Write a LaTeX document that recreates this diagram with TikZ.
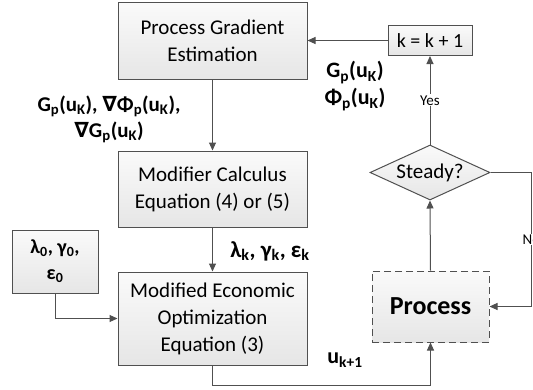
\documentclass[tikz,border=0pt]{standalone}
\usepackage{fontspec}
\setmainfont{Carlito}
\newfontfamily\symfont{DejaVu Sans}
\usepackage{tikz}
\usetikzlibrary{arrows.meta,positioning,calc,shapes.geometric}
\definecolor{LineGray}{HTML}{505050}
\definecolor{BoxTop}{HTML}{FAFAFA}
\definecolor{BoxBot}{HTML}{E6E6E6}
\newcommand{\lo}[1]{\textsubscript{#1}}
\newcommand{\nab}{{\symfont\bfseries ∇}}

\begin{document}
\begin{tikzpicture}[
  x=1pt,y=-1pt,
  every node/.style={font=\fontsize{21}{27}\selectfont,align=center,text=black},
  box/.style={draw=LineGray,line width=1pt,top color=BoxTop,bottom color=BoxBot,minimum width=189pt,inner sep=2pt},
  dbox/.style={box,dashed,dash pattern=on 7pt off 4pt},
  dec/.style={draw=LineGray,line width=1pt,top color=BoxTop,bottom color=BoxBot,diamond,aspect=2.2,minimum width=120pt,minimum height=55pt,inner sep=0pt},
  lbl/.style={font=\fontsize{21}{26}\selectfont\bfseries},
  tag/.style={font=\fontsize{15}{17}\selectfont,fill=white,inner sep=1pt},
  arr/.style={-{Triangle[length=8pt,width=7pt]},line width=1pt,color=LineGray}
]
\useasboundingbox (0,0) rectangle (533,389);
\node[box,minimum height=77pt] (pge) at (212.5,40.5) {Process Gradient\\Estimation};
\node[box,minimum height=76pt,below=71pt of pge] (mod) {Modifier Calculus\\Equation (4) or (5)};
\node[box,minimum height=93pt,below=44pt of mod] (meo) {Modified Economic\\Optimization\\Equation (3)};
\node[box,minimum width=86pt,minimum height=63pt,lbl,font=\fontsize{20}{26}\selectfont\bfseries] (init) at (55,261.5) {λ\lo{0}, γ\lo{0},\\ε\lo{0}};
\node[dbox,minimum width=117pt,minimum height=71pt,font=\fontsize{26}{30}\selectfont\bfseries] (proc) at (430.5,306.5) {Process};
\node[dec] (std) at (430,172.5) {Steady?};
\node[box,minimum width=84pt,minimum height=30pt,font=\fontsize{20}{24}\selectfont] (kup) at (430,40.5) {k = k + 1};

% labels
\node[lbl] (gl) at (109,119) {G\lo{p}(u\lo{K}), \nab Φ\lo{p}(u\lo{K}),\\\nab G\lo{p}(u\lo{K})};
\node[lbl,font=\fontsize{23}{26}\selectfont\bfseries] (ml) at (270,251) {λ\lo{k}, γ\lo{k}, ε\lo{k}};
\node[lbl,font=\fontsize{22}{27}\selectfont\bfseries] (rl) at (355,86) {G\lo{p}(u\lo{K})\\Φ\lo{p}(u\lo{K})};
\node[lbl,font=\fontsize{22}{26}\selectfont\bfseries] (ul) at (345,360) {u\lo{k+1}};

% connectors
\draw[arr] (pge.south) -- (mod.north);
\draw[arr] (mod.south) -- (meo.north);
\draw[arr] (init.south) |- (meo.west);
\draw[arr] (meo.south) -- ++(0,20) -| (proc.south);
\draw[arr] (proc.north) -- (std.south);
\draw[arr] (std.north) -- node[tag] {Yes} (kup.south);
\draw[arr] (std.east) -- ++(41,0) |- node[tag,pos=0.25] {No} (proc.east);
\draw[arr] (kup.west) -- (pge.east);
\end{tikzpicture}
\end{document}
